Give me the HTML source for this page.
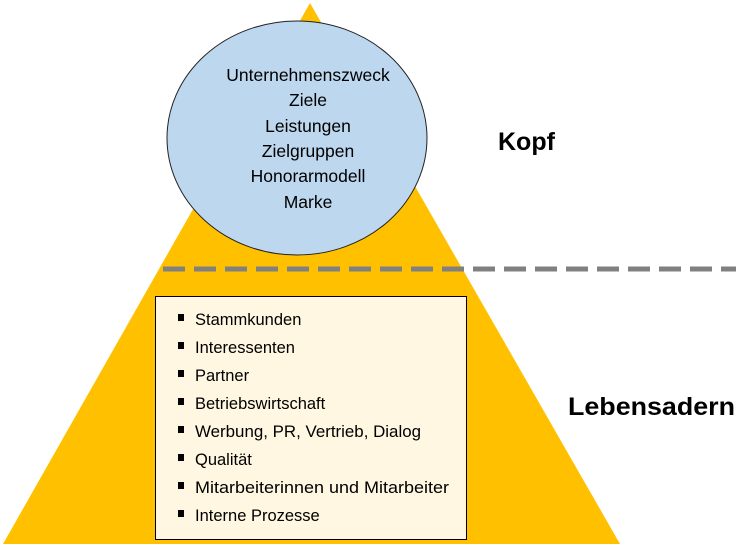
<!DOCTYPE html>
<html><head><meta charset="utf-8"><style>
body{margin:0;width:749px;height:545px;background:#fff;overflow:hidden;position:relative;font-family:"Liberation Sans",sans-serif}
svg{position:absolute;left:0;top:0}
.t{font-family:"Liberation Sans",sans-serif}
</style></head><body>
<svg width="749" height="545" viewBox="0 0 749 545">
<polygon points="310,3 620,544 3,544" fill="#FFC000"/>
<ellipse cx="297" cy="138" rx="130" ry="117" fill="#BDD7EE" stroke="#222" stroke-width="1"/>
<g class="t" font-size="17.5" text-anchor="middle" fill="#000">
<text x="308" y="81">Unternehmenszweck</text>
<text x="308" y="106">Ziele</text>
<text x="308" y="132">Leistungen</text>
<text x="308" y="157">Zielgruppen</text>
<text x="308" y="182">Honorarmodell</text>
<text x="308" y="208">Marke</text>
</g>
<line x1="163" y1="269" x2="736" y2="269" stroke="#808080" stroke-width="5" stroke-dasharray="22,9"/>
<rect x="155.5" y="296.5" width="311" height="243" fill="#FFF7E1" stroke="#000" stroke-width="1"/>
<g class="t" font-size="16.5" fill="#000">
<rect x="178" y="314" width="6" height="7"/><text x="195" y="325">Stammkunden</text>
<rect x="178" y="342" width="6" height="7"/><text x="195" y="353">Interessenten</text>
<rect x="178" y="370" width="6" height="7"/><text x="195" y="381">Partner</text>
<rect x="178" y="398" width="6" height="7"/><text x="195" y="409">Betriebswirtschaft</text>
<rect x="178" y="426" width="6" height="7"/><text x="195" y="437" textLength="226" lengthAdjust="spacingAndGlyphs">Werbung, PR, Vertrieb, Dialog</text>
<rect x="178" y="454" width="6" height="7"/><text x="195" y="465">Qualität</text>
<rect x="178" y="482" width="6" height="7"/><text x="195" y="493" textLength="254" lengthAdjust="spacingAndGlyphs">Mitarbeiterinnen und Mitarbeiter</text>
<rect x="178" y="510" width="6" height="7"/><text x="195" y="521">Interne Prozesse</text>
</g>
<text x="498" y="150" class="t" font-size="25" font-weight="bold">Kopf</text>
<text x="568" y="415" class="t" font-size="25" font-weight="bold" textLength="167" lengthAdjust="spacingAndGlyphs">Lebensadern</text>
</svg>
</body></html>
